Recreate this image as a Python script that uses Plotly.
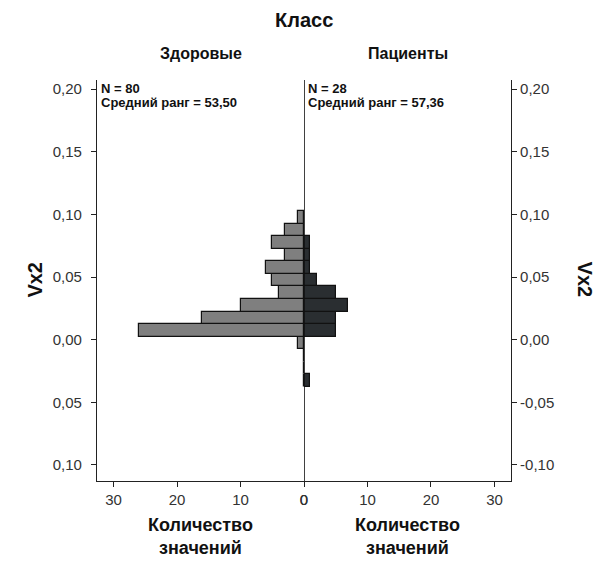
import plotly.graph_objects as go

# Bin centres (Vx2), bin width 0.01
bin_centers = [-0.0325, -0.0225, -0.0125, -0.0025, 0.0075, 0.0175, 0.0275, 0.0375,
               0.0475, 0.0575, 0.0675, 0.0775, 0.0875, 0.0975]
healthy_counts = [0, 0, 0, 1, 26, 16, 10, 4, 5, 6, 3, 5, 3, 1]
patient_counts = [1, 0, 0, 0, 5, 5, 7, 5, 2, 1, 1, 1, 0, 0]

y_tickvals = [0.20, 0.15, 0.10, 0.05, 0.00, -0.05, -0.10]
y_ticktext_left = ["0,20", "0,15", "0,10", "0,05", "0,00", "0,05", "0,10"]
y_ticktext_right = ["0,20", "0,15", "0,10", "0,05", "0,00", "-0,05", "-0,10"]
x_tickvals = [0, 10, 20, 30]

group_labels = ["Здоровые", "Пациенты"]
n_text = ["N = 80", "N = 28"]
rank_text = ["Средний ранг = 53,50", "Средний ранг = 57,36"]

FONT = "Liberation Sans, Arial, sans-serif"
y_range = [-0.1128, 0.2073]
x_max = 32.6

fig = go.Figure()
fig.add_trace(go.Bar(
    x=healthy_counts, y=bin_centers, orientation="h", width=0.01,
    marker=dict(color="#7f7f7f", line=dict(color="#111111", width=1.2)),
    xaxis="x", yaxis="y", showlegend=False,
))
fig.add_trace(go.Bar(
    x=patient_counts, y=bin_centers, orientation="h", width=0.01,
    marker=dict(color="#2a2e31", line=dict(color="#111111", width=1.2)),
    xaxis="x2", yaxis="y2", showlegend=False,
))

axis_common = dict(
    showgrid=False, zeroline=False, showline=True, linecolor="#222222", linewidth=1.2,
    ticks="outside", ticklen=5, tickcolor="#222222", tickwidth=1,
    tickfont=dict(family=FONT, size=15, color="#333333"),
)

fig.update_layout(
    width=598, height=563,
    margin=dict(l=97, r=87, t=80, b=82),
    paper_bgcolor="white", plot_bgcolor="white",
    bargap=0,
    xaxis=dict(domain=[0, 0.5], range=[x_max, 0], tickvals=x_tickvals, anchor="y", **axis_common),
    xaxis2=dict(domain=[0.5, 1], range=[0, x_max], tickvals=x_tickvals, anchor="y2", **axis_common),
    yaxis=dict(range=y_range, tickvals=y_tickvals, ticktext=y_ticktext_left, anchor="x",
               side="left", ticklabelstandoff=6, **axis_common),
    yaxis2=dict(range=y_range, tickvals=y_tickvals, ticktext=y_ticktext_right, anchor="x2",
                side="right", **axis_common),
)

# Centre dividing line
fig.add_shape(type="line", xref="x2", x0=0, x1=0, yref="paper", y0=0, y1=1,
              line=dict(color="#111111", width=1.6), layer="above")


def txt(text, x, y, size, xanchor="center", angle=0):
    return dict(text=text, x=x, y=y, xref="paper", yref="paper", xanchor=xanchor,
                yanchor="middle", textangle=angle, showarrow=False,
                font=dict(family=FONT, size=size, color="#111111"))


ann = [txt("<b>Класс</b>", 0.5, 1.1496, 20)]
for i in range(2):
    cx = 0.25 + 0.5 * i
    ann.append(txt(f"<b>{group_labels[i]}</b>", cx, 1.067, 16))
    a1 = txt(f"<b>{n_text[i]}</b>", 0.5 * i, 0.980, 13, xanchor="left")
    a1["xshift"] = 2
    a2 = txt(f"<b>{rank_text[i]}</b>", 0.5 * i, 0.943, 13, xanchor="left")
    a2["xshift"] = 2
    ann += [a1, a2]
    ann.append(txt("<b>Количество</b>", cx, -0.1097, 18))
    ann.append(txt("<b>значений</b>", cx, -0.167, 18))
ann.append(txt("<b>Vx2</b>", -0.15, 0.502, 20, angle=-90))
ann.append(txt("<b>Vx2</b>", 1.179, 0.502, 20, angle=90))
fig.update_layout(annotations=ann)

fig.write_html("out.html")
